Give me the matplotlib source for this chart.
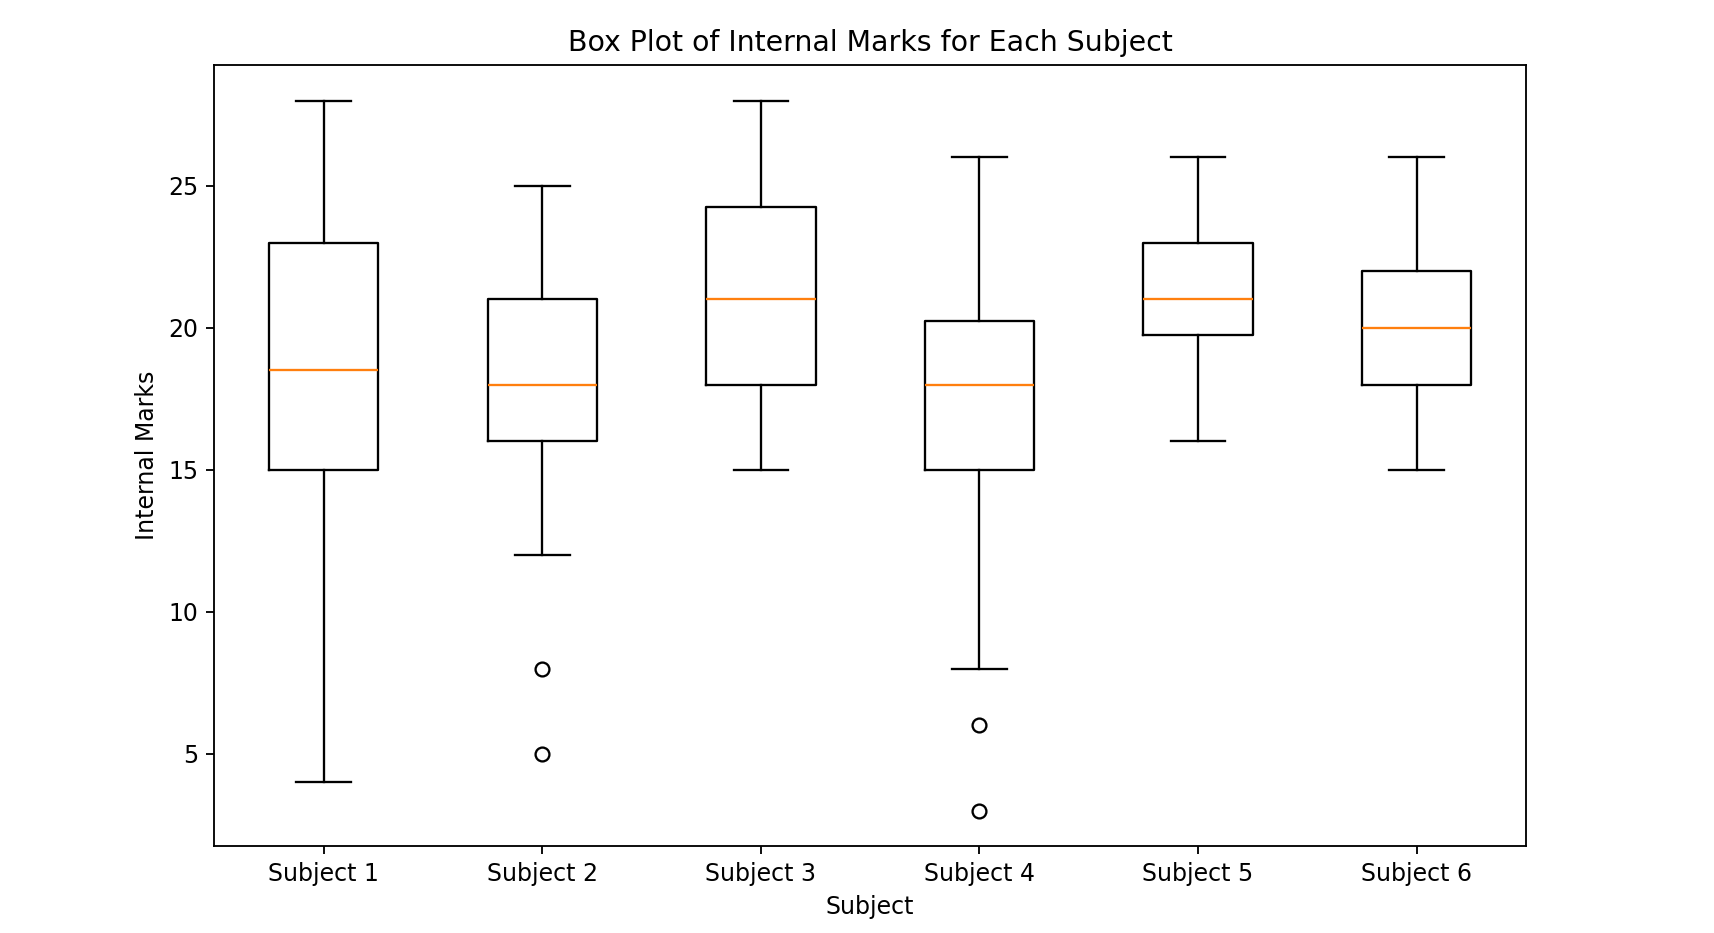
import matplotlib
matplotlib.use("Agg")
import matplotlib.pyplot as plt

# box plot summary
subjects = ["Subject 1", "Subject 2", "Subject 3", "Subject 4", "Subject 5", "Subject 6"]
whisker_low = [4, 12, 15, 8, 16, 15]
q1 = [15, 16, 18, 15, 19.75, 18]
medians = [18.5, 18, 21, 18, 21, 20]
q3 = [23, 21, 24.25, 20.25, 23, 22]
whisker_high = [28, 25, 28, 26, 26, 26]
outliers = [[], [8, 5], [], [6, 3], [], []]


def build_stats():
    stats = []
    for i, name in enumerate(subjects):
        stats.append({
            "label": name,
            "whislo": whisker_low[i],
            "q1": q1[i],
            "med": medians[i],
            "q3": q3[i],
            "whishi": whisker_high[i],
            "fliers": outliers[i],
        })
    return stats


def main():
    plt.rcParams["font.size"] = 10.25
    dpi = 166
    fig = plt.figure(figsize=(1714 / dpi, 933 / dpi), dpi=dpi)
    ax = fig.add_subplot(111)
    fig.subplots_adjust(left=0.1251, right=0.8903, bottom=0.0932, top=0.9303)

    ax.bxp(build_stats(), showfliers=True)

    ax.set_title("Box Plot of Internal Marks for Each Subject")
    ax.set_xlabel("Subject")
    ax.set_ylabel("Internal Marks")

    fig.savefig("out.png", dpi=dpi)


if __name__ == "__main__":
    main()
